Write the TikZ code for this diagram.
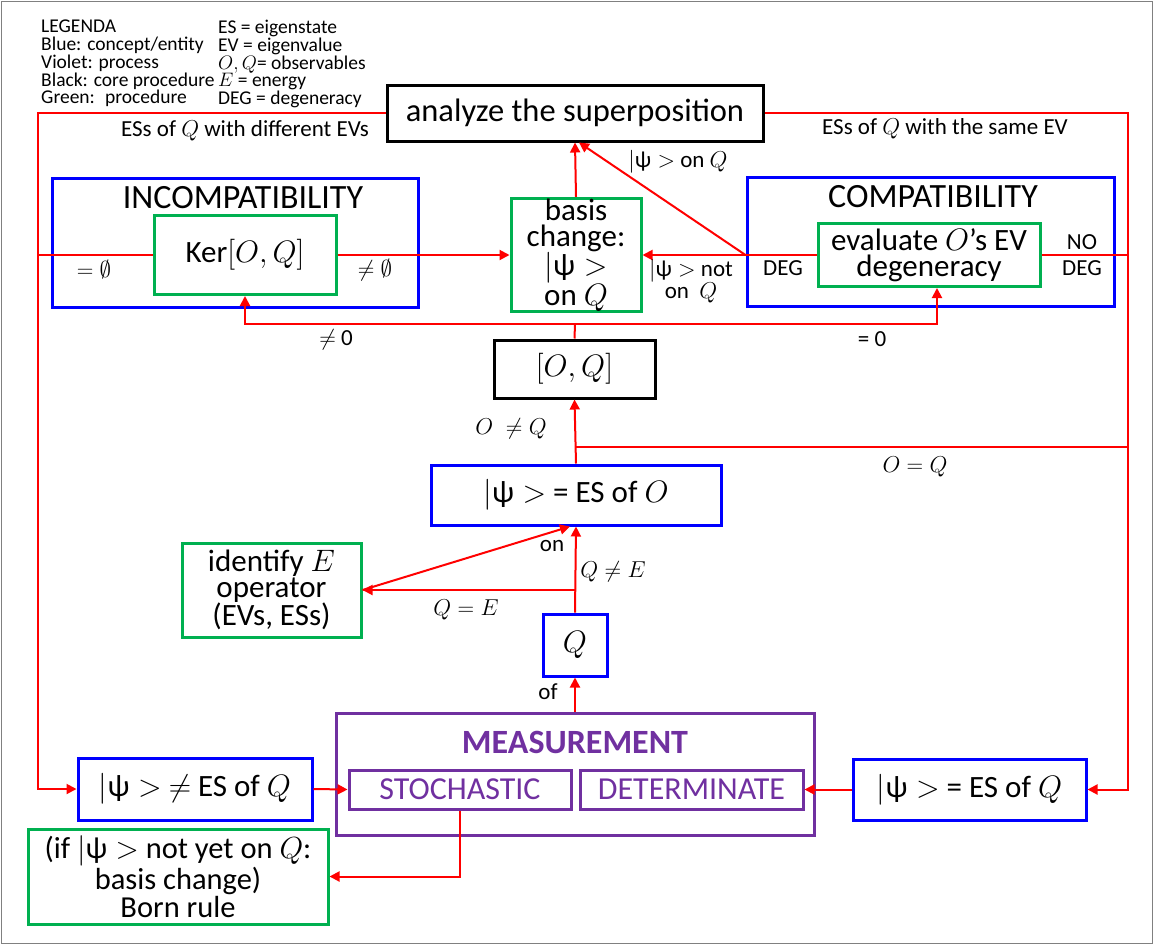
\RequirePackage{fix-cm}
\documentclass[tikz,border=0pt]{standalone}
\usepackage{amssymb}
\usepackage{fontspec}
\setmainfont{Carlito}
\usetikzlibrary{arrows.meta}

\definecolor{cblue}{RGB}{0,0,255}
\definecolor{cgreen}{RGB}{0,176,80}
\definecolor{cviolet}{RGB}{112,48,160}
\definecolor{cred}{RGB}{255,0,0}
\newcommand{\fs}[2]{\fontsize{#1}{#2}\selectfont}
\newcommand{\psiket}{$|$ψ$\;>$}

\begin{document}
\begin{tikzpicture}[x=1pt, y=-1pt,
    concept/.style={draw=cblue, line width=3pt, align=center, inner sep=0pt, font=\fs{31}{26}},
    core/.style={draw=black, line width=3pt, align=center, inner sep=0pt, font=\fs{31}{26}},
    proc/.style={draw=cgreen, line width=3pt, align=center, inner sep=0pt, font=\fs{31}{26}},
    process/.style={draw=cviolet, line width=3pt, align=center, inner sep=0pt, text=cviolet, font=\fs{32}{26}},
    lbl/.style={font=\fs{23}{20}, align=center, inner sep=0pt},
    wire/.style={draw=cred, line width=2pt},
    flow/.style={wire, -{Triangle[length=10pt, width=10pt]}}
]
  \useasboundingbox (0,0) rectangle (1154,946);
  \draw[gray, line width=1pt] (1.5,1.5) rectangle (1152,943);

  % legend
  \node[lbl, align=left, anchor=north west, font=\fs{19.5}{17.75}] (legcol) at (41,20)
    {LEGENDA\\Blue: concept/entity\\Violet: process\\Black: core procedure\\Green:~ procedure};
  \node[lbl, align=left, anchor=north west, font=\fs{19.5}{17.75}] (legabbr) at (218,20)
    {ES = eigenstate\\EV = eigenvalue\\$O,Q$= observables\\$E$ = energy\\DEG = degeneracy};

  % boxes
  \node[core, minimum width=376pt, minimum height=56pt, font=\fs{32.5}{26}] (analyze) at (575,113) {analyze the superposition};
  \node[concept, minimum width=366pt, minimum height=129pt] (incomp) at (235,242.5) {};
  \node[lbl, font=\fs{34}{26}] (incomptitle) at (243,198) {INCOMPATIBILITY};
  \node[proc, minimum width=182pt, minimum height=79pt] (ker) at (245,255) {Ker$[O,Q]$};
  \node[proc, minimum width=130pt, minimum height=109pt] (basis) at (576,255) {basis\\change:\\\psiket\\on $Q$};
  \node[concept, minimum width=367pt, minimum height=129pt] (compat) at (930.5,241.5) {};
  \node[lbl, font=\fs{34}{26}] (compattitle) at (933,197) {COMPATIBILITY};
  \node[proc, minimum width=222pt, minimum height=63pt] (evaluate) at (929,255) {evaluate $O$'s EV\\degeneracy};
  \node[core, minimum width=161pt, minimum height=58pt] (oq) at (574.5,369) {$[O,Q]$};
  \node[concept, minimum width=290pt, minimum height=60pt] (esO) at (576,495) {\psiket{} = ES of $O$};
  \node[proc, minimum width=179pt, minimum height=94pt] (identify) at (271.5,590) {identify $E$\\operator\\(EVs, ESs)};
  \node[concept, minimum width=64pt, minimum height=62pt] (qbox) at (575,645) {$Q$};
  \node[process, minimum width=478pt, minimum height=122pt] (meas) at (575,774) {};
  \node[lbl, text=cviolet, font=\bfseries\fs{34}{26}] (meastitle) at (575,742) {MEASUREMENT};
  \node[process, minimum width=222pt, minimum height=39pt] (stoch) at (460,789.5) {STOCHASTIC};
  \node[process, minimum width=223pt, minimum height=39pt] (determ) at (691.5,789.5) {DETERMINATE};
  \node[concept, minimum width=234pt, minimum height=62pt] (neqQ) at (195,789) {\psiket{} $\neq$ ES of $Q$};
  \node[concept, minimum width=233pt, minimum height=61pt] (eqQ) at (969.5,789.5) {\psiket{} = ES of $Q$};
  \node[proc, minimum width=300pt, minimum height=95pt, font=\fs{30.5}{26}] (born) at (178,876.5) {(if \psiket{} not yet on $Q$:\\basis change)\\Born rule};

  % helpers
  \coordinate (lft) at (38,0);
  \coordinate (rgt) at (1128,0);
  \coordinate (fork) at (575,324);
  \coordinate (eqfork) at (575,447);
  \coordinate (efork) at (575,590);

  % connectors
  \draw[flow] (analyze.west) -- (analyze.west -| lft) |- (neqQ.west);
  \draw[flow] (analyze.east) -- (analyze.east -| rgt) |- (eqQ.east);
  \draw[wire] (ker.west) -- (ker.west -| lft);
  \draw[flow] (ker.east) -- (basis.west);
  \draw[flow] (evaluate.west) -- (basis.east);
  \draw[flow] (evaluate.west -| compat.west) -- ([xshift=4pt]analyze.south);
  \draw[flow] (basis.north) -- (analyze.south);
  \draw[wire] (evaluate.east) -- (evaluate.east -| rgt);
  \draw[wire] (oq.north) -- (fork);
  \draw[flow] (fork) -| (ker.south);
  \draw[flow] (fork) -| ([xshift=8pt]evaluate.south);
  \draw[flow] (esO.north) -- (oq.south);
  \draw[wire] (eqfork) -- (eqfork -| rgt);
  \draw[flow] (qbox.north) -- (esO.south);
  \draw[flow] (efork) -- (identify.east);
  \draw[flow] (identify.east) -- ([xshift=-6pt]esO.south);
  \draw[flow] (meas.north) -- (qbox.south);
  \draw[flow] (neqQ.east) -- (stoch.west);
  \draw[flow] (eqQ.west) -- (determ.east);
  \draw[flow] (stoch.south) |- (born.east);

  % connector labels
  \node[lbl] (difflbl) at (245,131) {ESs of $Q$ with different EVs};
  \node[lbl] (samelbl) at (945,129) {ESs of $Q$ with the same EV};
  \node[lbl] (onqlbl) at (678,162) {\psiket{} on $Q$};
  \node[lbl] (emptylbl) at (94,270) {$=\emptyset$};
  \node[lbl] (nemptylbl) at (375,270) {$\neq\emptyset$};
  \node[lbl] (notonlbl) at (691,281) {\psiket{} not\\on~ $Q$};
  \node[lbl] (deglbl) at (783,268) {DEG};
  \node[lbl, font=\fs{23}{26}] (nodeglbl) at (1082,255) {NO\\DEG};
  \node[lbl] (nzerolbl) at (336,340) {$\neq$ 0};
  \node[lbl] (zerolbl) at (872,339) {= 0};
  \node[lbl] (oneqlbl) at (511,429) {$O\;\neq Q$};
  \node[lbl] (oeqlbl) at (915,467) {$O=Q$};
  \node[lbl] (qnelbl) at (613,572) {$Q\neq E$};
  \node[lbl] (qeqlbl) at (466,610) {$Q=E$};
  \node[lbl] (onlbl) at (552,546) {on};
  \node[lbl] (oflbl) at (548,692) {of};
\end{tikzpicture}
\end{document}
